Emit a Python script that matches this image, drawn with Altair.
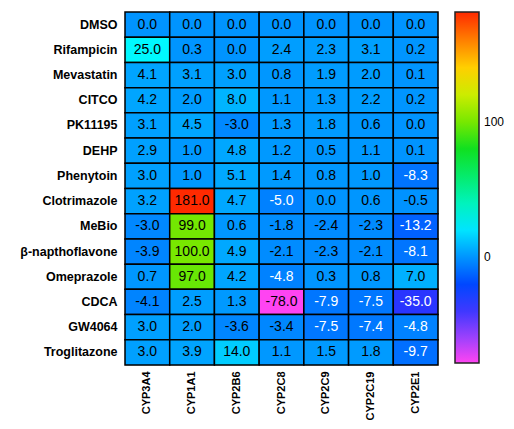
import altair as alt
import pandas as pd

rows = ["DMSO", "Rifampicin", "Mevastatin", "CITCO", "PK11195", "DEHP", "Phenytoin",
        "Clotrimazole", "MeBio", "β-napthoflavone", "Omeprazole", "CDCA", "GW4064", "Troglitazone"]
cols = ["CYP3A4", "CYP1A1", "CYP2B6", "CYP2C8", "CYP2C9", "CYP2C19", "CYP2E1"]

cyp3a4 = [0.0, 25.0, 4.1, 4.2, 3.1, 2.9, 3.0, 3.2, -3.0, -3.9, 0.7, -4.1, 3.0, 3.0]
cyp1a1 = [0.0, 0.3, 3.1, 2.0, 4.5, 1.0, 1.0, 181.0, 99.0, 100.0, 97.0, 2.5, 2.0, 3.9]
cyp2b6 = [0.0, 0.0, 3.0, 8.0, -3.0, 4.8, 5.1, 4.7, 0.6, 4.9, 4.2, 1.3, -3.6, 14.0]
cyp2c8 = [0.0, 2.4, 0.8, 1.1, 1.3, 1.2, 1.4, -5.0, -1.8, -2.1, -4.8, -78.0, -3.4, 1.1]
cyp2c9 = [0.0, 2.3, 1.9, 1.3, 1.8, 0.5, 0.8, 0.0, -2.4, -2.3, 0.3, -7.9, -7.5, 1.5]
cyp2c19 = [0.0, 3.1, 2.0, 2.2, 0.6, 1.1, 1.0, 0.6, -2.3, -2.1, 0.8, -7.5, -7.4, 1.8]
cyp2e1 = [0.0, 0.2, 0.1, 0.2, 0.0, 0.1, -8.3, -0.5, -13.2, -8.1, 7.0, -35.0, -4.8, -9.7]

series = [cyp3a4, cyp1a1, cyp2b6, cyp2c8, cyp2c9, cyp2c19, cyp2e1]

records = []
for c, vals in zip(cols, series):
    for r, v in zip(rows, vals):
        records.append({"row": r, "col": c, "v": v})
df = pd.DataFrame(records)

stops = [-78, -54, -26, 0, 25, 50, 80, 100, 132, 160, 181]
colors = ["#ff44f2", "#8040ff", "#0030ff", "#0094ff", "#00f8ff", "#00f090",
          "#10e020", "#78e800", "#ffee00", "#ff8000", "#ff2a00"]

FONT = "Liberation Sans"

base = alt.Chart(df).encode(
    x=alt.X("col:N", sort=cols, title=None,
            scale=alt.Scale(paddingInner=0, paddingOuter=0),
            axis=alt.Axis(orient="bottom", labelAngle=-90, labelFont=FONT, labelFontWeight="bold",
                          labelFontSize=11, labelColor="black", labelPadding=6,
                          ticks=False, domain=False, labelBaseline="middle", labelAlign="right")),
    y=alt.Y("row:N", sort=rows, title=None,
            scale=alt.Scale(paddingInner=0, paddingOuter=0),
            axis=alt.Axis(labelFont=FONT, labelFontWeight="bold", labelFontSize=12.5,
                          labelColor="black", labelPadding=8, ticks=False, domain=False)),
)

rects = base.mark_rect(stroke="black", strokeWidth=1.5).encode(
    color=alt.Color("v:Q", title=None,
                    scale=alt.Scale(domain=stops, range=colors, interpolate="rgb"),
                    legend=alt.Legend(values=[0, 100], gradientLength=351, gradientThickness=24,
                                      gradientStrokeColor="#222", gradientStrokeWidth=1.5,
                                      labelFont=FONT, labelFontSize=12, labelColor="black",
                                      labelOffset=5, offset=17, direction="vertical",
                                      orient="right"))
)

texts = base.mark_text(font=FONT, fontSize=14).transform_calculate(
    label="replace(format(datum.v, '.1f'), '\u2212', '-')"
).encode(
    text=alt.Text("label:N"),
    color=alt.condition("datum.v < -4.5 && datum.v > -60", alt.value("white"), alt.value("black")),
)

chart = (rects + texts).properties(
    width=313, height=353,
    autosize=alt.AutoSizeParams(type="none"),
    padding={"left": 117, "top": 4, "right": 68, "bottom": 56},
).configure_view(stroke="black", strokeWidth=2.5).configure(background="white")

chart.save("out.html", embed_options={"renderer": "svg", "actions": False})
